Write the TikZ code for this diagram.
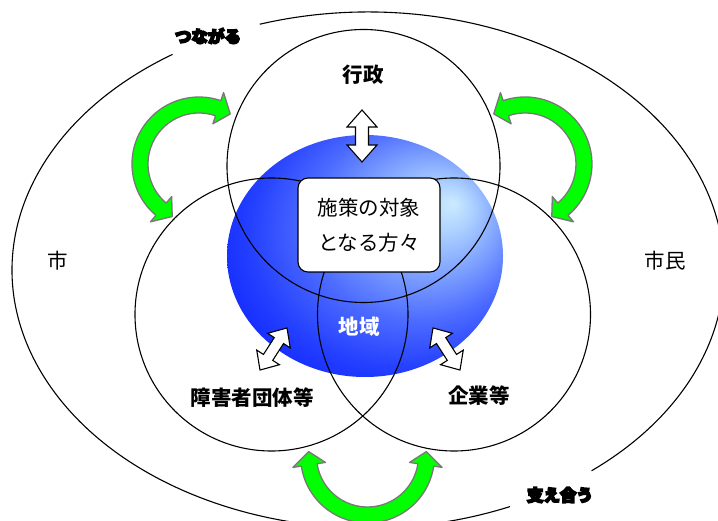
\documentclass[tikz,border=0pt]{standalone}
\usepackage{fontspec}
\newfontfamily\jp{Noto Sans CJK JP}
\usetikzlibrary{calc}
\definecolor{arrowgreen}{RGB}{0,255,0}
\definecolor{arrowedge}{RGB}{120,120,120}
\pgfdeclareradialshading{sphereshade}{\pgfpoint{16bp}{11bp}}{%
  rgb(0bp)=(0.80,0.92,1);
  rgb(5bp)=(0.68,0.82,1);
  rgb(12bp)=(0.50,0.64,1);
  rgb(20bp)=(0.30,0.42,1);
  rgb(28bp)=(0.14,0.25,1);
  rgb(36bp)=(0.04,0.12,1);
  rgb(50bp)=(0,0.04,1)}
\newcommand\heavytext[1]{\special{pdf:code 2 Tr 1.6 w 0 0 0 RG}#1\special{pdf:code 0 Tr}}
\tikzset{
  garrow/.style={fill=arrowgreen, draw=arrowedge, line width=1.3pt, line join=round},
  warrow/.style={fill=white, draw=black, line width=1.1pt, line join=miter},
  ring/.style={draw=black, line width=1.1pt},
  lab/.style={font=\jp\fontsize{20.5}{24}\selectfont, inner sep=0pt},
  blab/.style={font=\jp\bfseries\fontsize{20.5}{24}\selectfont, inner sep=0pt},
  hlab/.style={font=\jp\bfseries\fontsize{16.5}{20}\selectfont, inner sep=0pt},
  targetbox/.style={draw=black, line width=1.1pt, fill=white, rounded corners=10pt,
    minimum width=142pt, minimum height=94pt, align=center,
    font=\jp\fontsize{20.5}{35}\selectfont, inner sep=0pt}
}
% curved double arrow: centre x, centre y, start angle, end angle (radius 59)
\newcommand\greenarc[4]{%
  \pgfmathsetmacro\gstart{#3-13}\pgfmathsetmacro\gend{#4+13}%
  \filldraw[garrow, shift={(#1,#2)}]
    (#3:67) arc[start angle=#3, end angle=#4, radius=67]
    -- (#4:75.5) -- (\gend:59) -- (#4:42.5) -- (#4:51)
    arc[start angle=#4, end angle=#3, radius=51]
    -- (#3:42.5) -- (\gstart:59) -- (#3:75.5) -- cycle;}
% straight double arrow: x, y, rotation, half length, head length, head half width, shaft half width
\newcommand\whitearrow[7]{%
  \pgfmathsetmacro\wa{-#4+#5}\pgfmathsetmacro\wb{#4-#5}%
  \filldraw[warrow, shift={(#1,#2)}, rotate=#3]
    (-#4,0) -- (\wa,#6) -- (\wa,#7) -- (\wb,#7) -- (\wb,#6) -- (#4,0)
    -- (\wb,-#6) -- (\wb,-#7) -- (\wa,-#7) -- (\wa,-#6) -- cycle;}
\begin{document}
\begin{tikzpicture}[x=1pt,y=-1pt]
\useasboundingbox (0,0) rectangle (718,521);
\fill[white] (0,0) rectangle (718,521);
% green curved arrows
\greenarc{199}{164}{-230}{-71}
\greenarc{525}{164}{-109}{50}
\greenarc{367.5}{456}{8.7}{171.3}
% sphere
\shade[shading=sphereshade] (365,256) ellipse[x radius=138, y radius=121];
% outer ellipse with two gaps
\draw[ring] ([shift={(368,270)}]-107.7:356 and 258)
  arc[start angle=-107.7, end angle=51.1, x radius=356, y radius=258];
\draw[ring] ([shift={(368,270)}]66.5:356 and 258)
  arc[start angle=66.5, end angle=236.7, x radius=356, y radius=258];
% three circles
\draw[ring] (363.5,166) circle[radius=136.5];
\draw[ring] (271.5,314.5) circle[radius=136.5];
\draw[ring] (454,314.5) circle[radius=136.5];
% centre box
\node[targetbox] (target) at (369,225) {施策の対象\\となる方々};
% white double arrows
\whitearrow{362}{136}{90}{26}{17}{15}{6.5}
\whitearrow{273.5}{349}{57.3}{25}{15}{13.5}{5.5}
\whitearrow{446.5}{349}{122.7}{25}{15}{13.5}{5.5}
% labels
\node[blab] (gyosei) at (363,75) {行政};
\node[blab, text=white] (chiiki) at (359,327) {地域};
\node[blab] (dantai) at (252,398) {障害者団体等};
\node[blab] (kigyo) at (479,396) {企業等};
\node[lab] (shi) at (58,261) {市};
\node[lab] (shimin) at (665,261) {市民};
\node[hlab] (tsunagaru) at (208,36) {\heavytext{つながる}};
\node[hlab] (sasaeau) at (560,495) {\heavytext{支え合う}};
\end{tikzpicture}
\end{document}
